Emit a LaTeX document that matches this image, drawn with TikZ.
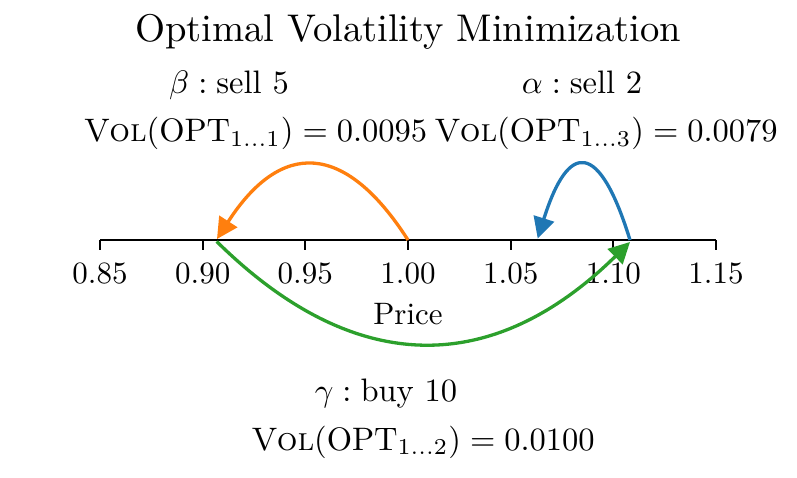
\documentclass[tikz,border=0pt]{standalone}
\usetikzlibrary{arrows.meta,calc}
\definecolor{tabblue}{HTML}{1F77B4}
\definecolor{taborange}{HTML}{FF7F0E}
\definecolor{tabgreen}{HTML}{2CA02C}
\tikzset{
  txt/.style={scale=3.25, inner sep=0pt, anchor=base, font=\fontsize{10}{12}\selectfont},
  ticklbl/.style={scale=3.1, inner sep=0pt, anchor=base, font=\fontsize{10}{12}\selectfont},
  ttl/.style={scale=3.86, inner sep=0pt, anchor=base, font=\fontsize{10}{12}\selectfont},
  axisline/.style={line width=1.8pt, black},
  tickmark/.style={line width=1.8pt, black},
  move/.style={line width=3.3pt, -{Triangle[length=21pt 0 0,width=21pt 0 0]}},
}
\begin{document}
\begin{tikzpicture}[x=1pt,y=-1pt]
\useasboundingbox (0,0) rectangle (797,478);
% title
\node[ttl] (title) at (408,41.5) {Optimal Volatility Minimization};
% axis
\coordinate (axL) at (100,240);
\coordinate (axR) at (716,240);
\draw[axisline] (axL) -- (axR);
\foreach \v/\x [count=\i] in {0.85/100,0.90/202.7,0.95/305.3,1.00/408,1.05/510.7,1.10/613.3,1.15/716}{
  \coordinate (t\i) at (\x,240);
  \coordinate (tb\i) at (\x,250.5);
  \draw[tickmark] (t\i) -- (tb\i);
  \node[ticklbl] (tl\i) at (\x,283.3) {$\v$};
}
\node[ticklbl] (price) at (408,324.3) {Price};
% labels
\node[txt] (beta) at (229,93.4) {$\beta:\mbox{sell }5$};
\node[txt] (volb) at (255.5,141.7) {$\textsc{Vol}(\mathrm{OPT}_{1\dots1}) = 0.0095$};
\node[txt] (alpha) at (582,93.4) {$\alpha:\mbox{sell }2$};
\node[txt] (vola) at (606,141.7) {$\textsc{Vol}(\mathrm{OPT}_{1\dots3}) = 0.0079$};
\node[txt] (gamma) at (386,401.7) {$\gamma:\mbox{buy }10$};
\node[txt] (volg) at (423,450) {$\textsc{Vol}(\mathrm{OPT}_{1\dots2}) = 0.0100$};
% arrow end points
\coordinate (oS) at (408,240);
\coordinate (oE) at (217,239);
\coordinate (oC) at (312.5,91);
\coordinate (bS) at (630,240);
\coordinate (bE) at (537.7,238.5);
\coordinate (bC) at (584,91);
\coordinate (gS) at (216.7,241.5);
\coordinate (gE) at (630,242);
\coordinate (gC) at (423,445);
% arrows (quadratic curves as cubics)
\draw[move, taborange] (oS) .. controls ($(oS)!2/3!(oC)$) and ($(oE)!2/3!(oC)$) .. (oE);
\draw[move, tabblue] (bS) .. controls ($(bS)!2/3!(bC)$) and ($(bE)!2/3!(bC)$) .. (bE);
\draw[move, tabgreen] (gS) .. controls ($(gS)!2/3!(gC)$) and ($(gE)!2/3!(gC)$) .. (gE);
\end{tikzpicture}
\end{document}
